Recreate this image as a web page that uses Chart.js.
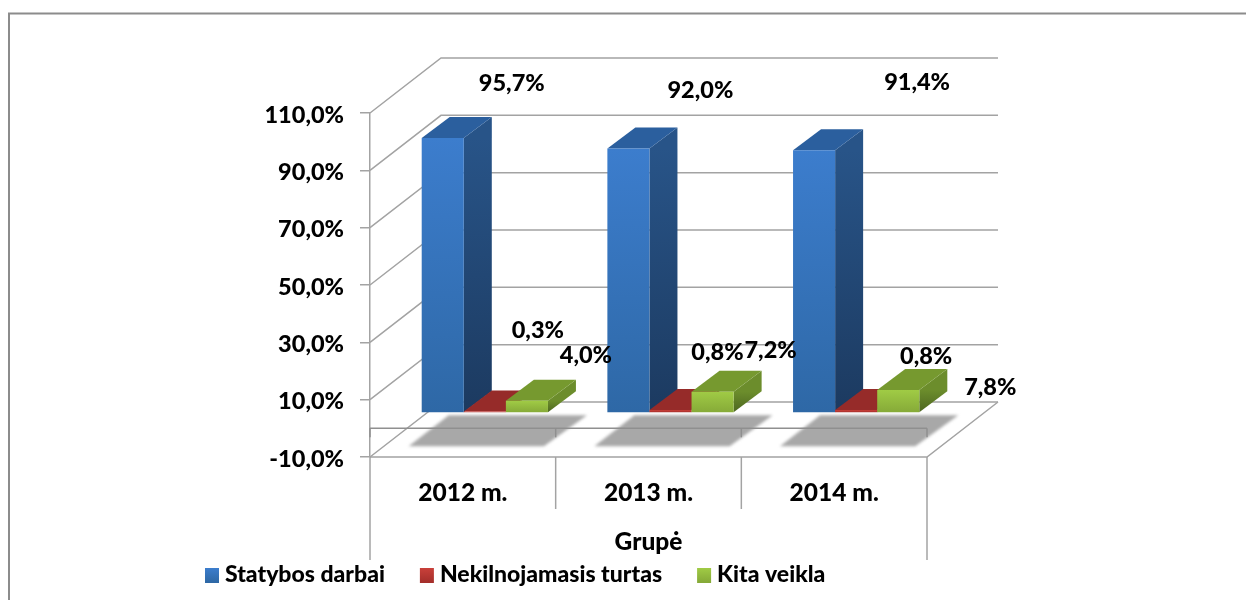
<!DOCTYPE html>
<html>
<head>
<meta charset="utf-8">
<title>Grupė</title>
<style>
  html, body { margin: 0; padding: 0; background: #fff; overflow: hidden; }
  #wrap { width: 1246px; height: 600px; }
</style>
<script src="https://cdn.jsdelivr.net/npm/chart.js@4/dist/chart.umd.min.js"></script>
</head>
<body>
<div id="wrap"><canvas id="myChart" width="1246" height="600"></canvas></div>
<script>
const categories = ['2012 m.', '2013 m.', '2014 m.']
const seriesNames = ['Statybos darbai', 'Nekilnojamasis turtas', 'Kita veikla']
const statybos = [95.7, 92.0, 91.4]
const turtas = [0.3, 0.8, 0.8]
const kita = [4.0, 7.2, 7.8]
const axisTitle = 'Grupė'

const FONT = 'Lato, Carlito, sans-serif'
const WEIGHT = '900'
const LINE = '#a3a3a3'
const AXIS_DARK = '#8f8f8f'

// depth of the box, and where the bars sit inside it
const WALL_DX = 71, WALL_DY = -55
const BAR_DX = 22, BAR_DY = -16
const SIDE_DX = 28, SIDE_DY = -21

// front, top, side colours per series
const looks = [
  { front: ['#3c7dcd', '#2e68a6'], top: '#2b5f9e', side: ['#285488', '#1c3a60'] },
  { front: ['#c9403a', '#a52f2b'], top: '#962b29', side: ['#8a2725', '#6a1e1c'] },
  { front: ['#a0cb45', '#86aa38'], top: '#76992f', side: ['#6c8d2c', '#4d6620'] }
]

// hand placed data labels: label centre relative to bar top centre
const labelOffsets = [
  [[69, -55], [72, -58], [103, -68]],
  [[53, -81], [47, -58], [70, -54]],
  [[59, -45], [58, -41], [92, -3]]
]

function fmt(v) { return v.toFixed(1).replace('.', ',') + '%' }

function vGrad(ctx, y0, y1, cols) {
  const g = ctx.createLinearGradient(0, y0, 0, y1)
  g.addColorStop(0, cols[0])
  g.addColorStop(1, cols[1])
  return g
}

function line(ctx, pts) {
  ctx.beginPath()
  pts.forEach((p, i) => i ? ctx.lineTo(p[0], p[1]) : ctx.moveTo(p[0], p[1]))
  ctx.stroke()
}

const box3d = {
  id: 'box3d',
  beforeDraw(chart) {
    const ctx = chart.ctx
    // outer frame of the pasted picture
    ctx.save()
    ctx.strokeStyle = '#8c8c8c'
    ctx.lineWidth = 2
    line(ctx, [[9, 600], [9, 13.5], [1246, 13.5]])
    ctx.restore()
  },
  beforeDatasetsDraw(chart) {
    const ctx = chart.ctx, a = chart.chartArea, y = chart.scales.y, x = chart.scales.x
    ctx.save()
    ctx.strokeStyle = LINE
    ctx.lineWidth = 1.5
    // walls
    y.ticks.forEach(t => {
      const p = y.getPixelForValue(t.value)
      line(ctx, [[a.left, p], [a.left + WALL_DX, p + WALL_DY], [a.right + WALL_DX, p + WALL_DY]])
    })
    line(ctx, [[a.left, a.bottom], [a.right, a.bottom], [a.right + WALL_DX, a.bottom + WALL_DY]])

    // shadows on the floor
    const first = chart.getDatasetMeta(0).data, last = chart.getDatasetMeta(2).data
    ctx.fillStyle = '#a8a8a8'
    ctx.filter = 'blur(1.5px)'
    first.forEach((el, i) => {
      const l = el.x - el.width / 2 + BAR_DX, r = last[i].x + last[i].width / 2 + BAR_DX
      const fl = l - 13, fr = r - 4, top = y.getPixelForValue(0) + BAR_DY + 3
      ctx.beginPath()
      ctx.moveTo(fl, top + 31)
      ctx.lineTo(fr, top + 31)
      ctx.lineTo(fr + 43, top)
      ctx.lineTo(fl + 40, top)
      ctx.closePath()
      ctx.fill()
    })
    ctx.filter = 'none'

    // category axis at the zero line, with its ticks
    const zero = y.getPixelForValue(0)
    const step = x.getPixelForValue(1) - x.getPixelForValue(0)
    const edges = categories.map((c, i) => x.getPixelForValue(i) - step / 2)
    edges.push(a.right)
    ctx.strokeStyle = AXIS_DARK
    line(ctx, [[a.left, zero], [a.right, zero]])
    edges.forEach(e => line(ctx, [[e, zero], [e, zero + 9]]))
    ctx.strokeStyle = LINE
    edges.forEach((e, i) => {
      const outer = i === 0 || i === edges.length - 1
      line(ctx, [[e, a.bottom], [e, a.bottom + (outer ? 103 : 52)]])
    })
    ctx.restore()
  },
  // the library paints the last dataset first, here green has to cover the red top
  beforeDatasetDraw() {
    return false
  },
  afterDatasetsDraw(chart) {
    const ctx = chart.ctx
    chart.data.datasets.forEach((ds, d) => {
      const look = looks[d]
      ctx.save()
      ctx.translate(BAR_DX, BAR_DY)
      chart.getDatasetMeta(d).data.forEach(el => {
        const r = el.x + el.width / 2, l = el.x - el.width / 2
        ctx.fillStyle = vGrad(ctx, el.y, el.base, look.side)
        ctx.beginPath()
        ctx.moveTo(r, el.y)
        ctx.lineTo(r + SIDE_DX, el.y + SIDE_DY)
        ctx.lineTo(r + SIDE_DX, el.base + SIDE_DY)
        ctx.lineTo(r, el.base)
        ctx.closePath()
        ctx.fill()
        ctx.fillStyle = look.top
        ctx.beginPath()
        ctx.moveTo(l, el.y)
        ctx.lineTo(l + SIDE_DX, el.y + SIDE_DY)
        ctx.lineTo(r + SIDE_DX, el.y + SIDE_DY)
        ctx.lineTo(r, el.y)
        ctx.closePath()
        ctx.fill()
        el.draw(ctx)
      })
      ctx.restore()
    })

    ctx.save()
    ctx.font = WEIGHT + ' 23.5px ' + FONT
    ctx.fillStyle = '#000'
    ctx.textAlign = 'center'
    ctx.textBaseline = 'middle'
    chart.data.datasets.forEach((ds, d) => {
      chart.getDatasetMeta(d).data.forEach((el, i) => {
        const off = labelOffsets[d][i]
        ctx.fillText(fmt(ds.data[i]), el.x + BAR_DX + off[0], el.y + BAR_DY + off[1])
      })
    })
    ctx.restore()
  },
  afterDraw(chart) {
    // legend swatches, the library's own box sits too far from the text
    const ctx = chart.ctx
    chart.legend.legendHitBoxes.forEach((h, i) => {
      const cy = h.top + h.height / 2
      ctx.fillStyle = vGrad(ctx, cy - 7, cy + 7, looks[i].front)
      ctx.fillRect(h.left, cy - 7, 14, 15)
    })
  }
}

const barFill = i => c => {
  if (!c.parsed) return looks[i].front[0]
  const y = c.chart.scales.y
  return vGrad(c.chart.ctx, y.getPixelForValue(c.parsed.y), y.getPixelForValue(0), looks[i].front)
}

const ctx = document.getElementById('myChart').getContext('2d')
const chart = new Chart(ctx, {
  type: 'bar',
  plugins: [box3d],
  data: {
    labels: categories,
    datasets: [
      { label: seriesNames[0], data: statybos, backgroundColor: barFill(0) },
      { label: seriesNames[1], data: turtas, backgroundColor: barFill(1) },
      { label: seriesNames[2], data: kita, backgroundColor: barFill(2) }
    ]
  },
  options: {
    responsive: false,
    animation: false,
    categoryPercentage: 0.68,
    barPercentage: 1,
    layout: { padding: { left: 170, right: 319, top: 113, bottom: 3.5 } },
    scales: {
      x: {
        afterFit(s) { s.height = 71.5 },
        grid: { display: false },
        border: { display: false },
        ticks: { color: '#000', padding: 13, maxRotation: 0, font: { family: FONT, size: 24.5, weight: WEIGHT } },
        title: { display: true, text: axisTitle, color: '#000', padding: { top: 0, bottom: -28 }, font: { family: FONT, size: 24.5, weight: WEIGHT } }
      },
      y: {
        min: -10,
        max: 110,
        afterFit(s) { s.width = 200 },
        ticks: {
          stepSize: 20,
          color: '#000',
          padding: 16,
          labelOffset: 2,
          callback: v => fmt(v),
          font: { family: FONT, size: 23.5, weight: WEIGHT }
        },
        grid: { drawOnChartArea: false, tickLength: 10, tickColor: LINE, lineWidth: 1.5 },
        border: { color: LINE, width: 1.5 }
      }
    },
    plugins: {
      tooltip: { enabled: false },
      legend: {
        position: 'bottom',
        align: 'start',
        labels: {
          color: '#000',
          boxWidth: 8.5,
          boxHeight: 14,
          padding: 35,
          font: { family: FONT, size: 23, weight: WEIGHT },
          generateLabels(ch) {
            return ch.data.datasets.map((ds, i) => ({
              text: ds.label,
              datasetIndex: i,
              lineWidth: 0,
              strokeStyle: 'transparent',
              fillStyle: 'transparent'
            }))
          }
        }
      }
    }
  }
})
</script>
</body>
</html>
